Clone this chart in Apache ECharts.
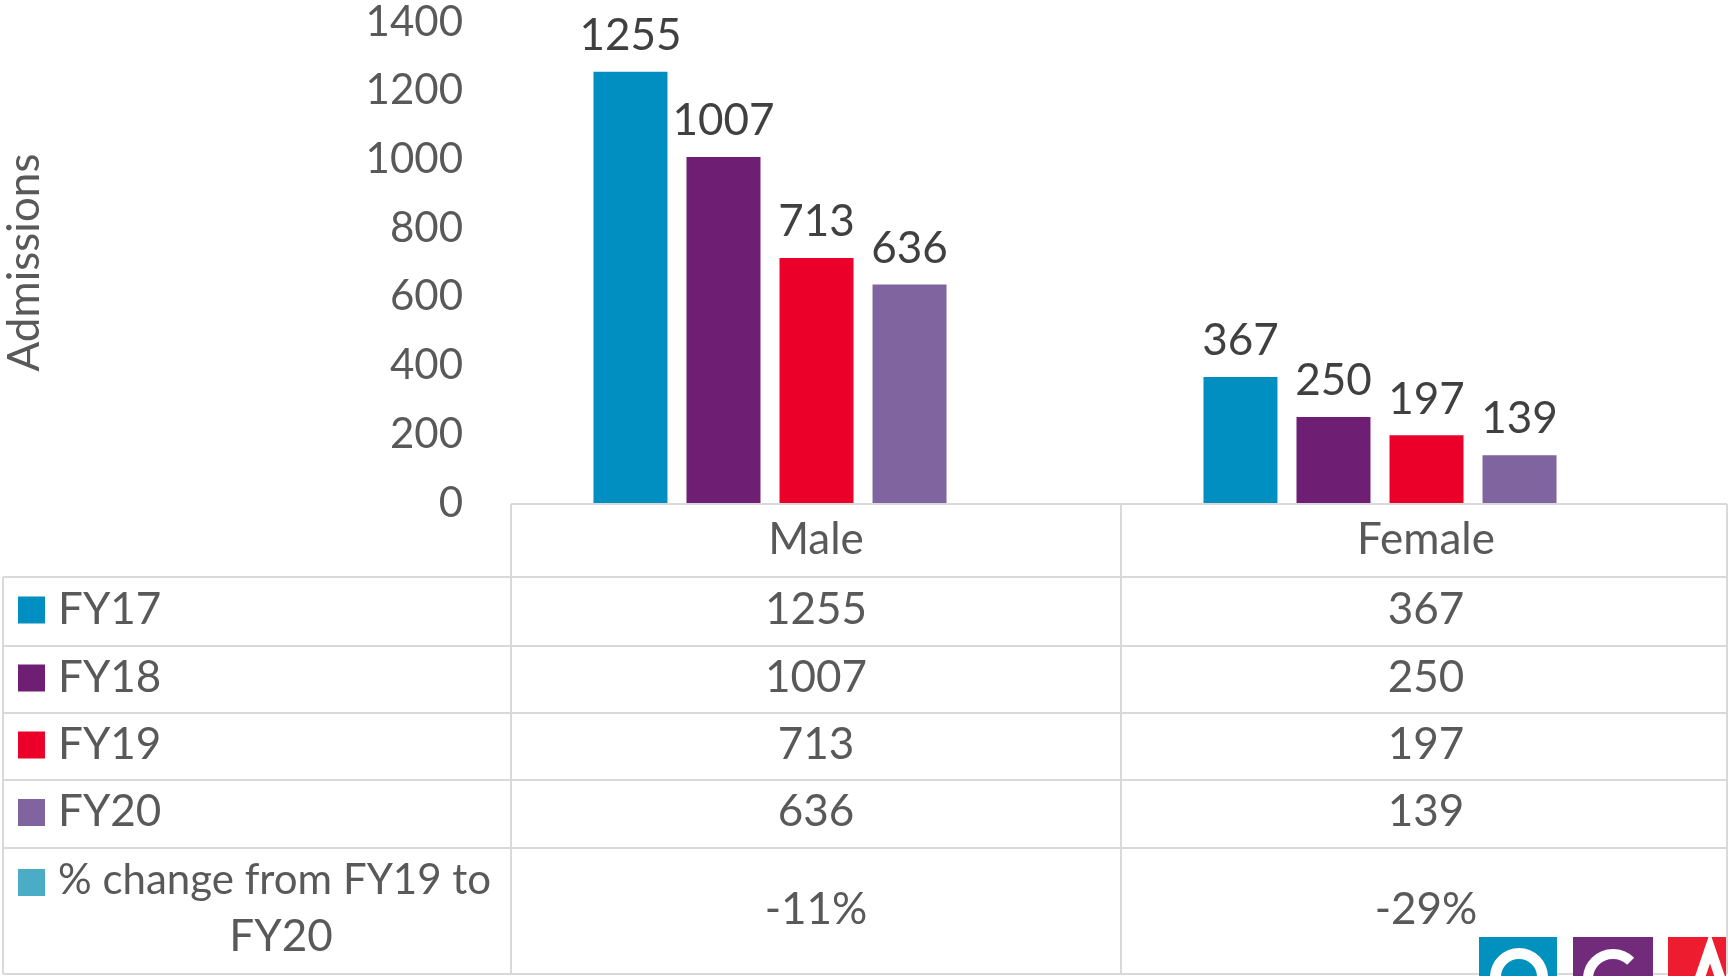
<!DOCTYPE html>
<html>
<head>
<meta charset="utf-8">
<script src="https://cdn.jsdelivr.net/npm/echarts@6/dist/echarts.min.js"></script>
<style>
  html, body { margin: 0; padding: 0; background: #fff; }
  #chart { width: 1731px; height: 976px; }
</style>
</head>
<body>
<div id="chart"></div>
<script>
// categories and series
var categories = ['Male', 'Female'];
var years = ['FY17', 'FY18', 'FY19', 'FY20'];
var fy17 = [1255, 367];
var fy18 = [1007, 250];
var fy19 = [713, 197];
var fy20 = [636, 139];
var pctLabel = '% change from FY19 to FY20';
var pctChange = ['-11%', '-29%'];
var yMin = 0, yMax = 1400, yStep = 200;

var colors = ['#008FC0', '#6E1F74', '#EB0029', '#7F64A0'];
var pctColor = '#4BACC6';
var textColor = '#595959';
var lineColor = '#D9D9D9';
var font = 'Lato';
var fs = 44;

var seriesValues = [fy17, fy18, fy19, fy20];

// data table layout
var tableLeft = 3, labelColRight = 511, midCol = 1121, tableRight = 1727;
var headerTop = 504, rowLines = [577, 646, 713, 780, 848, 974];
var colCenters = [816, 1426];

var graphics = [];
function hline(x1, x2, y) {
    graphics.push({ type: 'line', shape: { x1: x1, y1: y, x2: x2, y2: y },
        style: { stroke: lineColor, lineWidth: 2 }, silent: true });
}
function vline(x, y1, y2) {
    graphics.push({ type: 'line', shape: { x1: x, y1: y1, x2: x, y2: y2 },
        style: { stroke: lineColor, lineWidth: 2 }, silent: true });
}
function cellText(text, x, y, align, size) {
    graphics.push({ type: 'text', x: x, y: y, silent: true,
        style: { text: text, fill: textColor, font: (size || fs) + 'px ' + font,
                 textAlign: align || 'center', textVerticalAlign: 'middle' } });
}

hline(labelColRight, tableRight, headerTop);
rowLines.forEach(function (y) { hline(tableLeft, tableRight, y); });
vline(tableLeft, rowLines[0], rowLines[rowLines.length - 1]);
vline(labelColRight, headerTop, rowLines[rowLines.length - 1]);
vline(midCol, headerTop, rowLines[rowLines.length - 1]);
vline(tableRight, headerTop, rowLines[rowLines.length - 1]);

categories.forEach(function (c, j) { cellText(c, colCenters[j], 540); });

years.forEach(function (yr, i) {
    var yc = (rowLines[i] + rowLines[i + 1]) / 2 - 2;
    graphics.push({ type: 'rect', shape: { x: 18, y: yc - 13, width: 27, height: 27 },
        style: { fill: colors[i] }, silent: true });
    cellText(yr, 58, yc, 'left');
    seriesValues[i].forEach(function (v, j) { cellText(String(v), colCenters[j], yc); });
});

// % change row (label wraps onto two lines)
var pctWords = pctLabel.split(' ');
graphics.push({ type: 'rect', shape: { x: 18, y: 869, width: 27, height: 27 },
    style: { fill: pctColor }, silent: true });
cellText(pctWords.slice(0, -1).join(' '), 58, 880, 'left', 42);
cellText(pctWords[pctWords.length - 1], 281, 937);
pctChange.forEach(function (p, j) { cellText(p, colCenters[j], 910); });

// logo blocks, bottom right (cut off by the page edge)
graphics.push({ type: 'rect', shape: { x: 1479, y: 937, width: 78, height: 80 }, style: { fill: '#0091BF' }, silent: true });
graphics.push({ type: 'rect', shape: { x: 1573, y: 937, width: 80, height: 80 }, style: { fill: '#722A7A' }, silent: true });
graphics.push({ type: 'rect', shape: { x: 1668, y: 937, width: 58, height: 80 }, style: { fill: '#ED1C2E' }, silent: true });
graphics.push({ type: 'ring', shape: { cx: 1519, cy: 977, r: 29, r0: 18 }, style: { fill: '#fff' }, silent: true });
graphics.push({ type: 'arc', shape: { cx: 1613, cy: 979, r: 25, startAngle: -Math.PI / 4, endAngle: Math.PI / 4, clockwise: false },
    style: { stroke: '#fff', lineWidth: 10, fill: null }, silent: true });
graphics.push({ type: 'polyline', shape: { points: [[1694, 995], [1710, 948], [1726, 995]] },
    style: { stroke: '#fff', lineWidth: 10, fill: null }, silent: true });

var chart = echarts.init(document.getElementById('chart'));
chart.setOption({
    animation: false,
    backgroundColor: '#fff',
    textStyle: { fontFamily: font },
    grid: { left: 465, right: 46, top: 22, bottom: 473, containLabel: false, outerBoundsMode: 'none' },
    xAxis: {
        type: 'category',
        data: categories,
        axisLine: { show: false },
        axisTick: { show: false },
        axisLabel: { show: false },
        splitLine: { show: false }
    },
    yAxis: {
        type: 'value',
        min: yMin,
        max: yMax,
        interval: yStep,
        name: 'Admissions',
        nameLocation: 'middle',
        nameRotate: 90,
        nameGap: 418,
        nameTextStyle: { color: textColor, fontSize: fs, fontFamily: font },
        axisLine: { show: false },
        axisTick: { show: false },
        splitLine: { show: false },
        axisLabel: { color: textColor, fontSize: 42, fontFamily: font, margin: 2,
                     formatter: function (v) { return String(v); } }
    },
    series: years.map(function (yr, i) {
        return {
            name: yr,
            type: 'bar',
            data: seriesValues[i],
            barWidth: 74,
            barGap: '25.7%',
            itemStyle: { color: colors[i] },
            label: { show: true, position: 'top', distance: 14, color: '#404040',
                     fontSize: fs, fontFamily: font }
        };
    }),
    graphic: graphics
});
</script>
</body>
</html>
